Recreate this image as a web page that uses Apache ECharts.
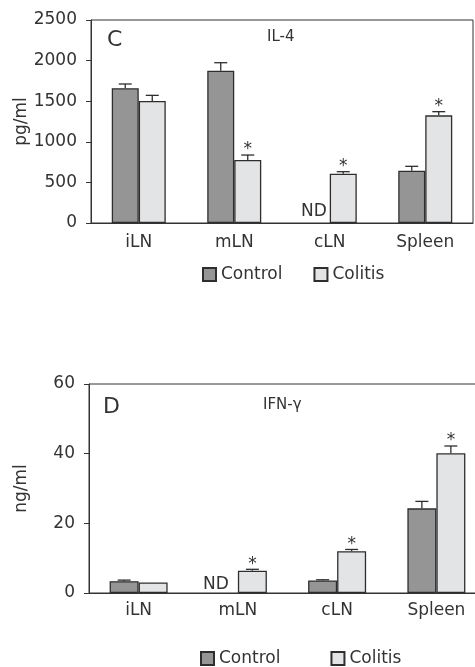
<!DOCTYPE html>
<html>
<head>
<meta charset="utf-8">
<script src="https://cdn.jsdelivr.net/npm/echarts@6/dist/echarts.min.js"></script>
<style>html,body{margin:0;padding:0;background:#fff}#c{width:475px;height:667px}</style>
</head>
<body>
<div id="c"></div>
<script>
// ---- data ----
var categories = ['iLN', 'mLN', 'cLN', 'Spleen'];
var seriesNames = ['Control', 'Colitis'];
// IL-4 (pg/ml); null = ND (not detected)
var il4Control    = [1660, 1876, null, 645];
var il4ControlErr = [52, 98, null, 53];
var il4Colitis    = [1502, 777, 607, 1326];
var il4ColitisErr = [70, 60, 25, 45];
var il4Sig        = [false, true, true, true];
var il4Ticks      = [0, 500, 1000, 1500, 2000, 2500];
// IFN-gamma (ng/ml)
var ifnControl    = [3.4, null, 3.6, 24.3];
var ifnControlErr = [0.3, null, 0.2, 2.0];
var ifnColitis    = [3.0, 6.4, 12.0, 40.1];
var ifnColitisErr = [0, 0.4, 0.5, 2.1];
var ifnSig        = [false, true, true, true];
var ifnTicks      = [0, 20, 40, 60];

// ---- style ----
var FONT = 'DejaVu Sans';
var INK = '#333333';
var CTRL_FILL = '#959596';
var COL_FILL = '#e3e4e5';
var BORDER = '#2e2e2e';

function errRenderer(ctrl, ctrlErr, col, colErr, sig, barW, ndDx, ndDy) {
  return function (params, api) {
    var i = api.value(0);
    var base = api.coord([i, 0]);
    var children = [];
    function errBar(x, v, e, star) {
      var top = api.coord([i, v])[1];
      var capY = api.coord([i, v + e])[1];
      if (e > 0) {
        children.push({type: 'line', shape: {x1: x, y1: top, x2: x, y2: capY}, style: {stroke: BORDER, lineWidth: 1.3}});
        children.push({type: 'line', shape: {x1: x - 6.5, y1: capY, x2: x + 6.5, y2: capY}, style: {stroke: BORDER, lineWidth: 1.3}});
      }
      if (star) {
        children.push({type: 'text', style: {text: '*', x: x, y: capY - 5, align: 'center', verticalAlign: 'middle', font: '17px "' + FONT + '"', fill: INK}});
      }
    }
    var xc = base[0] - barW / 2, xo = base[0] + barW / 2;
    if (ctrl[i] == null) {
      children.push({type: 'text', style: {text: 'ND', x: base[0] + ndDx, y: base[1] + ndDy, align: 'right', verticalAlign: 'bottom', font: '17px "' + FONT + '"', fill: INK}});
    } else {
      errBar(xc, ctrl[i], ctrlErr[i], false);
    }
    if (col[i] != null) errBar(xo, col[i], colErr[i], sig[i]);
    return {type: 'group', children: children};
  };
}

var idxData = categories.map(function (c, i) { return [i]; });

var chart = echarts.init(document.getElementById('c'), null, {renderer: 'canvas'});
var axisLabelStyle = {color: INK, fontFamily: FONT, fontSize: 17};
function plain(v) { return String(v); }

var option = {
  animation: false,
  backgroundColor: '#ffffff',
  textStyle: {fontFamily: FONT},
  graphic: [
    {type: 'text', left: 107, top: 29, style: {text: 'C', font: '22px "' + FONT + '"', fill: INK}},
    {type: 'text', left: 267, top: 30, style: {text: 'IL-4', font: '15px "' + FONT + '"', fill: INK}},
    {type: 'text', left: 103, top: 396, style: {text: 'D', font: '22px "' + FONT + '"', fill: INK}},
    {type: 'text', left: 263, top: 398, style: {text: 'IFN-γ', font: '15px "' + FONT + '"', fill: INK}}
  ],
  legend: [
    {data: seriesNames, left: 197, top: 261, icon: 'rect', itemWidth: 13, itemHeight: 13, itemGap: 31,
     textStyle: {color: INK, fontFamily: FONT, fontSize: 17}, selectedMode: false},
    {data: seriesNames, left: 195, top: 645, icon: 'rect', itemWidth: 13, itemHeight: 13, itemGap: 50,
     textStyle: {color: INK, fontFamily: FONT, fontSize: 17}, selectedMode: false}
  ],
  grid: [
    {left: 91, right: 2, top: 20, bottom: 444, show: true, borderColor: INK, borderWidth: 1, containLabel: false, outerBoundsMode: 'none'},
    {left: 89, right: -11, top: 384, bottom: 74, show: true, borderColor: INK, borderWidth: 1, containLabel: false, outerBoundsMode: 'none'}
  ],
  xAxis: [
    {type: 'category', gridIndex: 0, data: categories, boundaryGap: true,
     axisLine: {lineStyle: {color: INK}}, axisTick: {length: 6, lineStyle: {color: INK}},
     axisLabel: Object.assign({margin: 11}, axisLabelStyle)},
    {type: 'category', gridIndex: 1, data: categories, boundaryGap: true,
     axisLine: {lineStyle: {color: INK}}, axisTick: {length: 6, lineStyle: {color: INK}},
     axisLabel: Object.assign({margin: 9}, axisLabelStyle)}
  ],
  yAxis: [
    {type: 'value', gridIndex: 0, min: il4Ticks[0], max: il4Ticks[il4Ticks.length - 1], interval: il4Ticks[1] - il4Ticks[0],
     name: 'pg/ml', nameLocation: 'middle', nameGap: 61, nameMoveOverlap: false, nameTextStyle: {color: INK, fontFamily: FONT, fontSize: 17},
     splitLine: {show: false}, axisLine: {show: true, lineStyle: {color: INK}},
     axisTick: {show: true, length: 5, lineStyle: {color: INK}}, axisLabel: Object.assign({margin: 14, formatter: plain}, axisLabelStyle)},
    {type: 'value', gridIndex: 1, min: ifnTicks[0], max: ifnTicks[ifnTicks.length - 1], interval: ifnTicks[1] - ifnTicks[0],
     name: 'ng/ml', nameLocation: 'middle', nameGap: 59, nameMoveOverlap: false, nameTextStyle: {color: INK, fontFamily: FONT, fontSize: 17},
     splitLine: {show: false}, axisLine: {show: true, lineStyle: {color: INK}},
     axisTick: {show: true, length: 5, lineStyle: {color: INK}}, axisLabel: Object.assign({margin: 14, formatter: plain}, axisLabelStyle)}
  ],
  series: [
    {name: 'Control', type: 'bar', xAxisIndex: 0, yAxisIndex: 0, data: il4Control, barWidth: 27, barGap: '0%',
     itemStyle: {color: CTRL_FILL, borderColor: BORDER, borderWidth: 1.3}},
    {name: 'Colitis', type: 'bar', xAxisIndex: 0, yAxisIndex: 0, data: il4Colitis, barWidth: 27, barGap: '0%',
     itemStyle: {color: COL_FILL, borderColor: BORDER, borderWidth: 1.3}},
    {name: 'il4err', type: 'custom', xAxisIndex: 0, yAxisIndex: 0, data: idxData, encode: {x: 0}, clip: false, z: 5,
     renderItem: errRenderer(il4Control, il4ControlErr, il4Colitis, il4ColitisErr, il4Sig, 27, -3, -3)},
    {name: 'Control', type: 'bar', xAxisIndex: 1, yAxisIndex: 1, data: ifnControl, barWidth: 29, barGap: '0%',
     itemStyle: {color: CTRL_FILL, borderColor: BORDER, borderWidth: 1.3}},
    {name: 'Colitis', type: 'bar', xAxisIndex: 1, yAxisIndex: 1, data: ifnColitis, barWidth: 29, barGap: '0%',
     itemStyle: {color: COL_FILL, borderColor: BORDER, borderWidth: 1.3}},
    {name: 'ifnerr', type: 'custom', xAxisIndex: 1, yAxisIndex: 1, data: idxData, encode: {x: 0}, clip: false, z: 5,
     renderItem: errRenderer(ifnControl, ifnControlErr, ifnColitis, ifnColitisErr, ifnSig, 29, -9, 0)}
  ]
};
chart.setOption(option);
</script>
</body>
</html>
